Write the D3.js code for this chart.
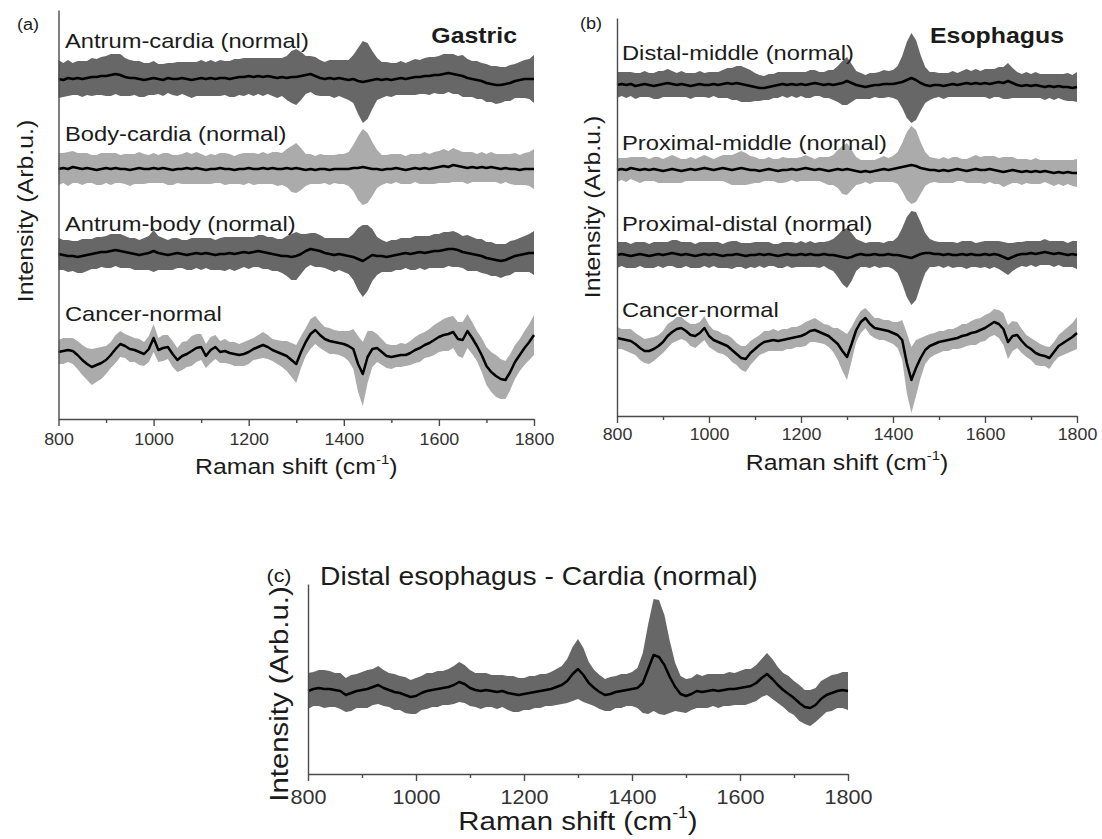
<!DOCTYPE html>
<html>
<head>
<meta charset="utf-8">
<script src="https://cdn.jsdelivr.net/npm/d3@7"></script>
<style>
  body { margin: 0; background: #fff; }
  svg text { font-family: "Liberation Sans", Arial, sans-serif; }
</style>
</head>
<body>
<svg id="fig" width="1102" height="839"></svg>
<script>
// Raman shift sampling grid (cm-1) and axis ticks
const shifts = d3.range(800, 1801, 10);
const majorTicks = [800, 1000, 1200, 1400, 1600, 1800];
const minorTicks = [900, 1100, 1300, 1500, 1700];

// ---- (a) gastric difference spectra: mean and +/- SD, arb. units ----
const antrumCardiaMean = [
  0, -1, 1, 0, 1, 0, 1, 2, 2, 3,
  3, 4, 5, 4, 2, 1, 1, 0, -1, 0,
  1, 0, -1, 1, 0, 0, 1, 0, -1, 0,
  1, 0, 1, 0, 1, 1, 0, 1, 2, 2,
  3, 2, 3, 2, 3, 2, 1, 2, 1, 2,
  2, 3, 4, 5, 3, 1, 0, 1, 0, 1,
  0, -1, 0, -2, -3, -2, -1, 0, -1, 0,
  -1, 0, 1, 0, 1, 2, 2, 3, 3, 4,
  4, 5, 6, 5, 4, 3, 1, 0, -1, -2,
  -4, -5, -6, -6, -5, -4, -2, -1, 0, 0,
  0];
const antrumCardiaSd = [
  19, 17, 18, 16, 17, 18, 17, 19, 18, 19,
  20, 21, 20, 21, 19, 18, 17, 18, 17, 16,
  17, 15, 16, 15, 16, 17, 16, 17, 18, 17,
  18, 17, 18, 17, 18, 17, 18, 19, 18, 19,
  18, 19, 18, 19, 18, 19, 20, 19, 22, 26,
  28, 24, 19, 18, 19, 18, 17, 18, 19, 18,
  19, 20, 24, 33, 41, 38, 29, 21, 18, 17,
  17, 16, 17, 16, 17, 18, 17, 18, 19, 18,
  19, 20, 19, 20, 19, 21, 19, 18, 19, 18,
  19, 18, 19, 18, 17, 18, 17, 18, 19, 20,
  24];
const bodyCardiaMean = [
  0, 1, 0, 2, 1, 0, 1, 0, -1, 0,
  1, 0, 1, 0, 0, -1, 0, 1, 0, 0,
  1, 0, 1, 0, -1, 0, 0, 1, 0, 1,
  0, -1, 0, 0, 1, 0, 0, -1, 0, 0,
  1, 0, 0, 1, 0, 1, 0, 0, 1, 0,
  1, 0, -1, 0, -1, 0, 0, -1, 0, 0,
  0, 0, 1, 1, 2, 1, 0, 0, -1, 0,
  0, 1, 0, -1, 0, 1, 0, 1, 0, 1,
  2, 3, 2, 4, 3, 2, 1, 2, 1, 2,
  1, 2, 1, 0, 1, 0, 0, -1, 0, 0,
  0];
const bodyCardiaSd = [
  16, 15, 17, 16, 15, 16, 15, 14, 15, 16,
  15, 16, 15, 14, 15, 16, 15, 16, 15, 14,
  15, 14, 15, 16, 15, 14, 15, 16, 15, 16,
  15, 14, 15, 14, 15, 16, 15, 14, 15, 16,
  15, 16, 15, 16, 15, 16, 17, 16, 19, 23,
  25, 21, 16, 15, 14, 15, 14, 15, 14, 15,
  15, 17, 23, 32, 38, 35, 27, 19, 15, 14,
  15, 14, 15, 14, 15, 14, 15, 16, 15, 16,
  16, 17, 16, 17, 16, 15, 16, 15, 14, 15,
  14, 15, 14, 15, 14, 15, 16, 15, 16, 17,
  20];
const antrumBodyMean = [
  0, -1, -2, -2, -3, -2, -1, 0, 1, 2,
  2, 3, 4, 3, 2, 1, 0, -1, 0, 1,
  3, 1, 0, -1, 0, 1, 0, -1, 0, 1,
  0, 1, 0, -1, 0, 0, 1, 0, 1, 2,
  1, 2, 3, 2, 1, 0, -1, -2, -2, -3,
  -2, 0, 3, 5, 4, 3, 1, 0, -1, 0,
  -1, -2, -3, -5, -7, -4, -1, -2, -2, -3,
  -2, -1, 0, 1, 0, 1, 2, 1, 2, 3,
  3, 4, 5, 5, 4, 2, 1, 0, -1, -2,
  -4, -5, -6, -7, -6, -4, -2, -1, 0, 1,
  1];
const antrumBodySd = [
  16, 15, 16, 15, 16, 17, 16, 15, 16, 15,
  16, 17, 16, 17, 16, 15, 16, 15, 16, 17,
  21, 17, 16, 15, 16, 15, 14, 15, 16, 15,
  16, 15, 16, 15, 16, 17, 16, 17, 16, 15,
  16, 15, 16, 17, 16, 17, 16, 17, 20, 23,
  24, 20, 17, 16, 17, 16, 15, 16, 17, 16,
  17, 18, 23, 31, 36, 33, 26, 19, 16, 15,
  16, 15, 16, 15, 16, 17, 16, 17, 16, 17,
  17, 18, 17, 18, 17, 16, 18, 17, 16, 17,
  16, 17, 16, 17, 16, 17, 16, 17, 18, 19,
  22];
const gastricCancerMean = [
  0, 1, 2, 1, -3, -8, -12, -15, -13, -11,
  -8, -3, 3, 8, 6, 3, 2, 0, -2, 3,
  14, 2, 4, 5, -2, -8, -4, -2, 1, 4,
  5, -4, 2, 5, 0, 1, -1, -2, -3, -2,
  0, 3, 5, 7, 5, 2, 0, -2, -4, -8,
  -12, 0, 10, 18, 22, 17, 13, 11, 10, 9,
  8, 6, 3, -12, -22, -5, 3, 4, 0, -4,
  -5, -4, -3, -3, -1, 2, 4, 7, 9, 12,
  15, 17, 18, 20, 13, 12, 21, 14, 6, -3,
  -14, -20, -24, -27, -28, -20, -10, -3, 4, 10,
  17];
const gastricCancerSd = [
  12, 13, 12, 13, 14, 15, 16, 18, 17, 16,
  14, 13, 14, 13, 12, 13, 12, 13, 12, 13,
  14, 12, 13, 12, 13, 12, 14, 13, 15, 14,
  13, 12, 13, 12, 11, 12, 11, 12, 11, 12,
  12, 11, 12, 13, 12, 11, 12, 13, 15, 17,
  19, 16, 14, 15, 14, 13, 12, 13, 12, 12,
  13, 15, 20, 28, 32, 26, 18, 14, 13, 12,
  12, 11, 12, 11, 12, 13, 14, 13, 14, 15,
  15, 16, 17, 16, 17, 18, 17, 16, 15, 17,
  19, 20, 21, 20, 19, 18, 17, 16, 17, 18,
  20];

// ---- (b) esophagus difference spectra ----
const distalMiddleMean = [
  0, 1, 0, 1, -1, 0, 1, 0, -1, 0,
  1, 2, 1, 0, 1, 0, -1, 0, 1, 0,
  0, 1, 0, 1, 2, 1, 2, 1, 0, -1,
  -2, -3, -3, -2, -1, 0, 1, 0, 1, 0,
  1, 0, 1, 2, 1, 0, 1, 0, 1, 2,
  4, 2, 0, -1, -2, -1, 0, 0, 1, 1,
  1, 2, 3, 5, 7, 5, 2, 0, -1, 0,
  0, -1, 0, 1, 0, 1, 2, 1, 2, 1,
  2, 1, 2, 3, 2, 4, 2, 0, -1, 0,
  -1, 0, -1, -2, -1, -2, -1, -2, -2, -3,
  -2];
const distalMiddleSd = [
  13, 12, 13, 12, 13, 12, 13, 12, 13, 14,
  13, 14, 13, 12, 13, 12, 13, 12, 13, 12,
  13, 12, 13, 14, 15, 16, 17, 18, 17, 16,
  14, 13, 12, 13, 12, 13, 12, 13, 12, 13,
  12, 13, 14, 13, 12, 13, 14, 15, 18, 22,
  24, 19, 14, 13, 12, 13, 12, 13, 14, 13,
  14, 17, 26, 38, 45, 40, 28, 18, 14, 13,
  12, 13, 12, 13, 12, 13, 14, 13, 14, 13,
  14, 15, 14, 15, 16, 18, 15, 13, 12, 13,
  12, 13, 12, 13, 12, 13, 12, 13, 14, 13,
  15];
const proximalMiddleMean = [
  0, 1, 0, 2, 1, 0, 1, 0, 1, 0,
  -1, 0, 1, 0, -1, 0, 1, 0, 1, 2,
  1, 0, 1, 2, 1, 0, 1, 2, 1, 0,
  0, -1, 0, 1, 0, -1, 0, 0, 1, 0,
  1, 2, 1, 0, 1, 0, -1, 0, 1, 0,
  1, 0, -1, -2, -1, -2, -1, 0, 1, 0,
  1, 2, 3, 4, 5, 4, 2, 1, 0, 0,
  -1, 0, -1, 0, 1, 0, -1, 0, 1, 0,
  0, 1, 0, -1, -2, -1, 0, -1, -2, -1,
  -2, -1, -2, -1, -2, -3, -2, -3, -2, -3,
  -3];
const proximalMiddleSd = [
  12, 11, 12, 11, 12, 13, 12, 11, 12, 13,
  12, 13, 14, 13, 12, 11, 12, 11, 12, 13,
  12, 11, 12, 13, 14, 15, 16, 17, 16, 14,
  13, 12, 11, 12, 11, 12, 13, 12, 11, 12,
  12, 13, 12, 11, 12, 13, 14, 15, 19, 24,
  26, 20, 14, 12, 11, 12, 11, 12, 13, 12,
  13, 16, 24, 34, 39, 36, 26, 17, 13, 12,
  12, 13, 12, 13, 12, 11, 12, 13, 14, 13,
  14, 13, 14, 13, 15, 14, 13, 12, 13, 12,
  12, 13, 12, 11, 12, 13, 12, 13, 12, 13,
  14];
const proximalDistalMean = [
  0, 1, 0, -1, 0, 1, 0, -1, 0, 1,
  0, 1, 2, 1, 0, 1, 0, -1, 0, 1,
  0, 1, 0, -1, 0, 0, 1, 0, -1, 0,
  0, 1, 0, 1, 0, -1, 0, 1, 0, 0,
  1, 0, 1, 0, 0, 1, 0, 0, -1, -2,
  -3, -2, 0, 1, 0, 0, 1, 0, 0, 1,
  0, 0, -1, -2, -3, -1, 1, 2, 2, 1,
  1, 0, 1, 0, 0, 1, 0, 1, 0, 0,
  1, 0, 1, 0, -2, -4, -2, 0, 1, 1,
  2, 1, 2, 3, 2, 1, 2, 1, 0, 1,
  0];
const proximalDistalSd = [
  13, 12, 13, 12, 13, 12, 13, 12, 13, 12,
  13, 12, 13, 14, 13, 12, 13, 12, 13, 12,
  13, 12, 13, 12, 13, 14, 13, 12, 13, 12,
  13, 12, 13, 12, 11, 12, 13, 12, 13, 12,
  13, 12, 13, 12, 13, 12, 14, 16, 21, 27,
  30, 24, 16, 13, 12, 13, 12, 13, 12, 13,
  14, 18, 28, 40, 47, 44, 32, 20, 14, 13,
  12, 13, 12, 13, 12, 13, 14, 13, 12, 13,
  13, 14, 13, 14, 15, 16, 14, 13, 12, 13,
  12, 13, 12, 13, 12, 13, 12, 13, 12, 13,
  14];
const esophagusCancerMean = [
  0, -1, -2, -3, -6, -10, -13, -13, -11, -8,
  -4, 2, 6, 9, 10, 7, 3, 2, 5, 10,
  2, -2, -4, -6, -8, -12, -16, -20, -21, -15,
  -11, -7, -4, -3, -2, -3, -2, -1, 0, 1,
  2, 4, 7, 8, 6, 4, 2, -2, -6, -13,
  -19, -6, 8, 16, 20, 14, 10, 9, 8, 7,
  5, 3, -2, -25, -42, -30, -20, -12, -8, -6,
  -4, -3, -2, -1, 0, 2, 3, 5, 6, 8,
  10, 13, 16, 14, 9, -4, 2, 3, -3, -8,
  -11, -15, -17, -18, -20, -14, -8, -5, -2, 1,
  5];
const esophagusCancerSd = [
  11, 10, 11, 12, 11, 12, 12, 13, 12, 11,
  11, 12, 11, 12, 11, 10, 11, 12, 11, 12,
  11, 10, 11, 10, 11, 12, 11, 12, 13, 12,
  11, 10, 11, 10, 11, 10, 11, 10, 11, 10,
  11, 12, 11, 12, 11, 10, 11, 12, 16, 20,
  23, 17, 12, 11, 10, 11, 10, 11, 10, 11,
  11, 13, 20, 30, 33, 28, 20, 14, 12, 11,
  11, 10, 11, 10, 11, 12, 11, 12, 13, 12,
  13, 12, 13, 14, 16, 17, 15, 13, 12, 11,
  11, 12, 11, 10, 11, 10, 11, 12, 13, 14,
  16];

// ---- (c) distal esophagus - cardia ----
const junctionMean = [
  0, 2, 3, 2, 2, 1, 0, -4, -2, 0,
  1, 2, 4, 6, 3, 1, -1, -2, -4, -6,
  -5, -2, 0, 1, 2, 3, 4, 6, 9, 7,
  3, 1, 0, 1, 0, -1, 0, -2, -3, -4,
  -3, -2, -1, 0, 1, 2, 4, 6, 10, 17,
  22, 16, 8, 3, -1, -4, -3, -1, 0, 1,
  2, 3, 8, 22, 36, 34, 26, 14, 4, -3,
  -5, -3, 0, -1, 0, 1, 0, 1, 2, 2,
  3, 4, 5, 8, 13, 17, 12, 6, 1, -3,
  -7, -12, -16, -17, -14, -8, -4, -2, 0, 1,
  0];
const junctionSd = [
  18, 17, 18, 19, 18, 17, 18, 17, 18, 17,
  18, 19, 18, 19, 18, 17, 18, 17, 18, 17,
  18, 17, 18, 17, 18, 17, 18, 19, 20, 19,
  18, 17, 18, 17, 16, 17, 16, 17, 18, 17,
  16, 17, 16, 17, 16, 17, 18, 19, 22, 27,
  30, 27, 21, 18, 17, 16, 17, 16, 17, 16,
  17, 20, 30, 45, 56, 57, 50, 36, 24, 18,
  17, 16, 17, 16, 17, 16, 17, 16, 17, 16,
  17, 18, 17, 18, 19, 21, 20, 18, 17, 18,
  17, 18, 17, 18, 17, 18, 17, 18, 17, 18,
  19];

// stacking offsets (arb. units above the x axis) and labels
const gastricLabels = ["Antrum-cardia (normal)", "Body-cardia (normal)", "Antrum-body (normal)", "Cancer-normal"];
const gastricOffsets = [340, 250, 165, 67];
const esophagusLabels = ["Distal-middle (normal)", "Proximal-middle (normal)", "Proximal-distal (normal)", "Cancer-normal"];
const esophagusOffsets = [331, 246, 161, 78];
const junctionLabels = ["Distal esophagus - Cardia (normal)"];
const junctionOffsets = [83];

const DARK = "#676767", LIGHT = "#ababab";
const STRETCH = 1.13;

const panels = [
  {
    tag: "(a)", tagX: 28, tagY: 30, tagSize: 16,
    name: "Gastric", nameX: 517, nameY: 43,
    left: 58.5, right: 534, top: 10, bottom: 419, ymax: 409,
    tickFont: 16.5, tickPad: 7,
    labelSize: 21, labelX: 65, labelY: [48, 141, 231, 321],
    xTitleY: 474, xTitleSize: 22, yTitleX: 25, yTitleY: 211, yTitleSize: 22,
    traces: [
      { mean: antrumCardiaMean, sd: antrumCardiaSd, fill: DARK },
      { mean: bodyCardiaMean, sd: bodyCardiaSd, fill: LIGHT },
      { mean: antrumBodyMean, sd: antrumBodySd, fill: DARK },
      { mean: gastricCancerMean, sd: gastricCancerSd, fill: LIGHT }
    ],
    labels: gastricLabels, offsets: gastricOffsets
  },
  {
    tag: "(b)", tagX: 591, tagY: 29, tagSize: 16,
    name: "Esophagus", nameX: 1064, nameY: 43,
    left: 617, right: 1077, top: 18, bottom: 416, ymax: 398,
    tickFont: 16.5, tickPad: 5,
    labelSize: 21, labelX: 622, labelY: [60, 150, 231, 317],
    xTitleY: 470, xTitleSize: 22, yTitleX: 592, yTitleY: 207, yTitleSize: 22,
    traces: [
      { mean: distalMiddleMean, sd: distalMiddleSd, fill: DARK },
      { mean: proximalMiddleMean, sd: proximalMiddleSd, fill: LIGHT },
      { mean: proximalDistalMean, sd: proximalDistalSd, fill: DARK },
      { mean: esophagusCancerMean, sd: esophagusCancerSd, fill: LIGHT }
    ],
    labels: esophagusLabels, offsets: esophagusOffsets
  },
  {
    tag: "(c)", tagX: 279, tagY: 582, tagSize: 19,
    name: null,
    left: 308, right: 848, top: 584, bottom: 774, ymax: 190,
    tickFont: 20, tickPad: 9,
    labelSize: 25, labelX: 320, labelY: [585],
    xTitleY: 830, xTitleSize: 26, yTitleX: 279, yTitleY: 694, yTitleSize: 26,
    traces: [
      { mean: junctionMean, sd: junctionSd, fill: DARK }
    ],
    labels: junctionLabels, offsets: junctionOffsets
  }
];

const svg = d3.select("#fig");

function addText(g, x, y, str, size, opt = {}) {
  return g.append("text")
    .attr("transform", `translate(${x},${y}) rotate(${opt.rotate || 0}) scale(${STRETCH},1)`)
    .attr("text-anchor", opt.anchor || "start")
    .attr("dy", opt.dy || null)
    .attr("font-size", size)
    .attr("font-weight", opt.bold ? "bold" : null)
    .attr("fill", "#1b1b1b")
    .text(str);
}

function addShiftTitle(t, size) {
  t.append("tspan").attr("font-size", size * 0.6).attr("dy", -size * 0.45).text("-1");
  t.append("tspan").attr("dy", size * 0.45).text(")");
}

panels.forEach(p => {
  const g = svg.append("g");
  const x = d3.scaleLinear().domain([800, 1800]).range([p.left, p.right]);
  const y = d3.scaleLinear().domain([0, p.ymax]).range([p.bottom, p.top]);

  p.traces.forEach((tr, i) => {
    const off = p.offsets[i];
    const rows = shifts.map((s, k) => ({ s, m: tr.mean[k], sd: tr.sd[k] }));
    const band = d3.area()
      .x(d => x(d.s))
      .y0(d => y(off + d.m - d.sd))
      .y1(d => y(off + d.m + d.sd));
    const line = d3.line()
      .x(d => x(d.s))
      .y(d => y(off + d.m));
    g.append("path").datum(rows).attr("d", band).attr("fill", tr.fill);
    g.append("path").datum(rows).attr("d", line)
      .attr("fill", "none").attr("stroke", "#000")
      .attr("stroke-width", 2.5).attr("stroke-linejoin", "round");
    addText(g, p.labelX, p.labelY[i], p.labels[i], p.labelSize);
  });

  // y axis: bare line
  g.append("g").attr("transform", `translate(${p.left},0)`)
    .call(d3.axisLeft(y).tickValues([]).tickSizeOuter(0))
    .call(a => a.select(".domain").attr("stroke", "#4a4a4a").attr("stroke-width", 1.4));

  // x axis: minor then major ticks
  g.append("g").attr("transform", `translate(0,${p.bottom})`)
    .call(d3.axisBottom(x).tickValues(minorTicks).tickSize(4).tickSizeOuter(0).tickFormat(""))
    .call(a => a.select(".domain").remove())
    .call(a => a.selectAll("line").attr("stroke", "#4a4a4a").attr("stroke-width", 1.4));
  g.append("g").attr("transform", `translate(0,${p.bottom})`)
    .call(d3.axisBottom(x).tickValues(majorTicks).tickSize(7).tickSizeOuter(0)
      .tickPadding(p.tickPad).tickFormat(d3.format("d")))
    .call(a => a.select(".domain").attr("stroke", "#4a4a4a").attr("stroke-width", 1.4))
    .call(a => a.selectAll("line").attr("stroke", "#4a4a4a").attr("stroke-width", 1.4))
    .call(a => a.selectAll("text")
      .attr("font-size", p.tickFont)
      .attr("font-family", "Liberation Sans, Arial, sans-serif")
      .attr("fill", "#333")
      .attr("transform", "scale(1.08,1)"));

  // titles
  addText(g, p.tagX, p.tagY, p.tag, p.tagSize, { anchor: "middle" });
  if (p.name) addText(g, p.nameX, p.nameY, p.name, 22, { anchor: "end", bold: true });
  const xt = addText(g, (p.left + p.right) / 2, p.xTitleY, "Raman shift (cm", p.xTitleSize, { anchor: "middle" });
  addShiftTitle(xt, p.xTitleSize);
  addText(g, p.yTitleX, p.yTitleY, "Intensity (Arb.u.)", p.yTitleSize,
    { anchor: "middle", rotate: -90, dy: "0.35em" });
});
</script>
</body>
</html>
